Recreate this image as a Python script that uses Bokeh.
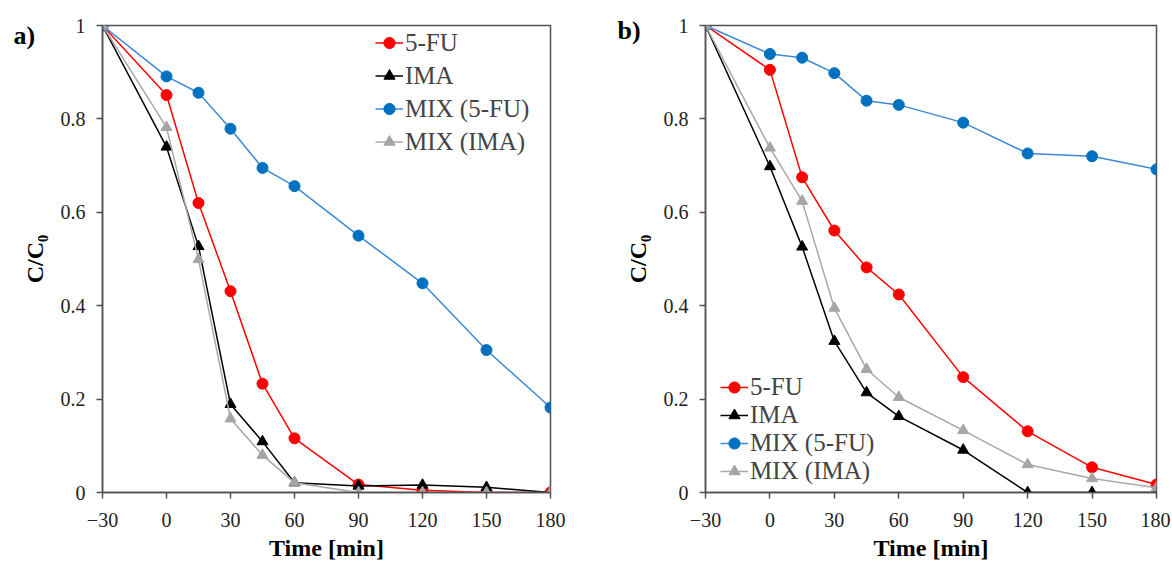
from bokeh.plotting import figure
from bokeh.layouts import row
from bokeh.models import Range1d, FixedTicker, NumeralTickFormatter, Legend, Title
from bokeh.embed import file_html
from bokeh.resources import INLINE

# ---- data ----
time_min = [-30, 0, 15, 30, 45, 60, 90, 120, 150, 180]
x_ticks = [-30, 0, 30, 60, 90, 120, 150, 180]
y_ticks = [0, 0.2, 0.4, 0.6, 0.8, 1.0]

a_5fu = [1.0, 0.851, 0.620, 0.431, 0.233, 0.116, 0.017, 0.005, 0.0, 0.0]
a_ima = [1.0, 0.740, 0.527, 0.189, 0.109, 0.021, 0.014, 0.016, 0.011, 0.0]
a_mix_5fu = [1.0, 0.891, 0.856, 0.779, 0.695, 0.656, 0.550, 0.448, 0.305, 0.182]
a_mix_ima = [1.0, 0.782, 0.499, 0.158, 0.080, 0.021, 0.0, 0.0, 0.0, 0.0]

b_5fu = [1.0, 0.905, 0.675, 0.561, 0.482, 0.424, 0.247, 0.131, 0.054, 0.017]
b_ima = [1.0, 0.698, 0.526, 0.324, 0.214, 0.163, 0.091, 0.0, 0.0, 0.0]
b_mix_5fu = [1.0, 0.939, 0.931, 0.898, 0.839, 0.830, 0.792, 0.726, 0.720, 0.692]
b_mix_ima = [1.0, 0.738, 0.624, 0.395, 0.264, 0.204, 0.133, 0.060, 0.030, 0.010]

labels = ["5-FU", "IMA", "MIX (5-FU)", "MIX (IMA)"]

FONT = "Liberation Serif"
AX = "#505050"
H = 563

series_style = [
    dict(line="#FF0000", fill="#FF0000", marker="circle"),
    dict(line="#000000", fill="#000000", marker="triangle"),
    dict(line="#3C8AD6", fill="#0070C0", marker="circle"),
    dict(line="#A8A8A8", fill="#A5A5A5", marker="triangle"),
]


def make_panel(width, border_left, border_right, data, legend_loc, legend_row_h,
               tag, tag_offset, tag_standoff):
    p = figure(width=width, height=H, output_backend="svg", toolbar_location=None,
               x_range=Range1d(-30, 180), y_range=Range1d(0, 1),
               min_border_left=border_left, min_border_right=border_right,
               min_border_top=25, min_border_bottom=H - 496)
    p.grid.visible = False
    p.outline_line_color = AX
    p.outline_line_width = 1.5
    p.background_fill_color = None
    p.border_fill_color = "white"

    # panel tag ("a)" / "b)") as a title pulled down beside the frame
    p.add_layout(Title(text=tag, align="left", offset=tag_offset, standoff=tag_standoff,
                       vertical_align="bottom", text_font=FONT, text_font_size="26px",
                       text_font_style="bold", text_color="black"), "above")

    renderers = []
    for vals, lab, st in zip(data, labels, series_style):
        ln = p.line(time_min, vals, line_color=st["line"], line_width=1.5)
        sc = p.scatter(time_min, vals, marker=st["marker"], size=11,
                       fill_color=st["fill"], line_color=st["fill"])
        renderers.append((lab, [ln, sc]))

    legend = Legend(items=renderers, location=legend_loc)
    legend.background_fill_alpha = 0
    legend.border_line_alpha = 0
    legend.label_text_font = FONT
    legend.label_text_font_size = "25px"
    legend.label_height = legend_row_h
    legend.glyph_height = legend_row_h
    legend.glyph_width = 28
    legend.label_standoff = 2
    legend.spacing = 0
    legend.padding = 0
    legend.margin = 0
    p.add_layout(legend, "center")

    p.xaxis.ticker = FixedTicker(ticks=x_ticks)
    p.yaxis.ticker = FixedTicker(ticks=y_ticks)
    p.yaxis.formatter = NumeralTickFormatter(format="0.[0]")
    for ax in (p.xaxis, p.yaxis):
        ax.axis_line_color = AX
        ax.axis_line_width = 1.5
        ax.major_tick_line_color = AX
        ax.major_tick_line_width = 1.5
        ax.major_tick_in = 0
        ax.major_tick_out = 6
        ax.minor_tick_line_color = None
        ax.major_label_text_font = FONT
        ax.major_label_text_font_size = "20px"
        ax.major_label_text_color = "#222222"
        ax.axis_label_text_font = FONT
        ax.axis_label_text_font_size = "24px"
        ax.axis_label_text_font_style = "bold"
        ax.axis_label_text_color = "black"
    p.xaxis.axis_label = "Time [min]"
    p.yaxis.axis_label = "C/C\u2080"
    p.xaxis.major_label_standoff = 14
    p.xaxis.axis_label_standoff = 5
    p.yaxis.major_label_standoff = 11
    p.yaxis.axis_label_standoff = 10
    return p


pa = make_panel(608, 102, 58, [a_5fu, a_ima, a_mix_5fu, a_mix_ima], (273, 334), 33,
                "a)", -89, -49)
pb = make_panel(562, 97, 14, [b_5fu, b_ima, b_mix_5fu, b_mix_ima], (15, 7), 28,
                "b)", -88, -38)

layout = row(pa, pb)
open("out.html", "w").write(file_html(layout, INLINE))
